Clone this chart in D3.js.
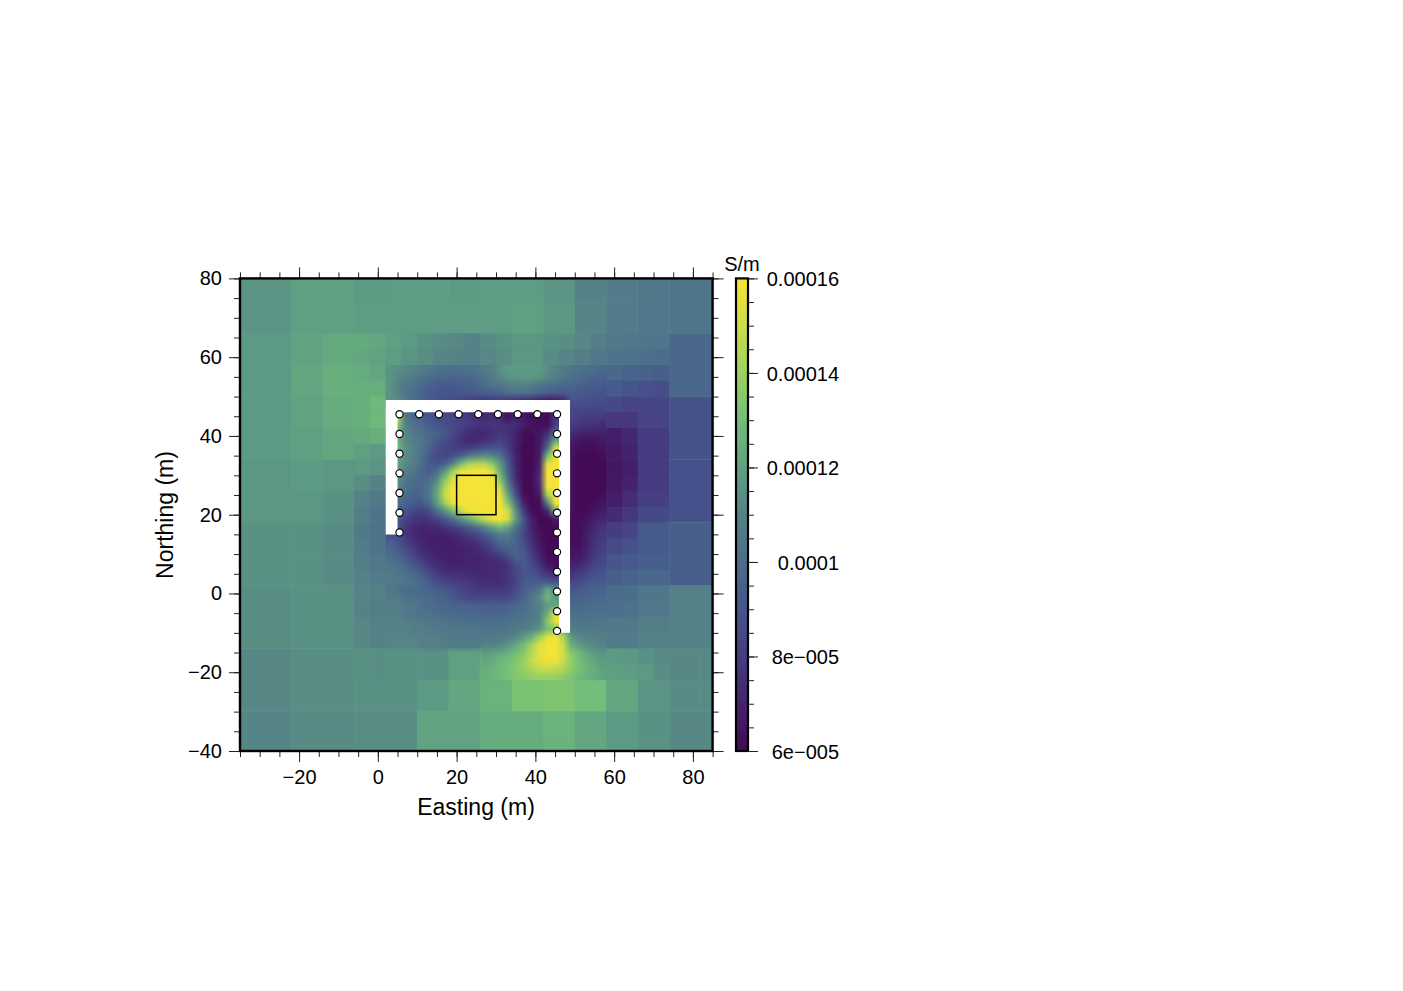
<!DOCTYPE html>
<html><head><meta charset="utf-8">
<script src="https://cdn.jsdelivr.net/npm/d3@7/dist/d3.min.js"></script>
<style>html,body{margin:0;padding:0;background:#fff}svg{display:block}text{font-family:"Liberation Sans",Arial,sans-serif;fill:#000}</style>
</head><body><div id="c"></div>
<script>
// conductivity in 1e-6 S/m
const colorTicks=[60,80,100,120,140,160];
const colorTickLabels=["6e\u2212005","8e\u2212005","0.0001","0.00012","0.00014","0.00016"];
const colorStops=["#440a55","#44236e","#463c82","#46558c","#4b6e8c","#558287","#5fa082","#73be78","#9bd25f","#cddc4b","#f5e437"];
const electrodesTop=[5.5,10.5,15.5,20.5,25.5,30.5,35.5,40.5,45.5];
const electrodesLeft=[40.5,35.5,30.5,25.5,20.5,15.5];
const electrodesRight=[40.5,35.5,30.5,25.5,20.5,15.5,10.5,5.5,0.5,-4.5,-9.5];
// 8 m cells: x edges from -38, y edges from 82
const grid8=[
[116,116,120,120,118,119,119,118,119,119,116,110,107,105,104,104],
[116,116,120,120,119,119,119,119,119,120,117,111,107,105,104,104],
[118,118,121,123,122,115,112,110,113,116,114,108,105,101,97,97],
[118,118,122,125,123,115,106,98,105,118,112,100,96,93,97,97],
[118,118,121,124,124,120,100,90,85,80,75,84,80,84,89,89],
[118,118,120,122,122,115,100,85,110,75,66,66,70,80,89,89],
[117,117,118,117,114,110,100,140,160,75,160,62,66,79,88,88],
[117,117,117,115,110,105,100,140,160,75,160,62,68,80,88,88],
[115,115,115,113,106,90,68,70,100,90,62,64,80,88,94,94],
[115,115,115,113,107,100,70,68,75,90,70,72,90,94,94,94],
[114,114,115,115,110,106,98,90,90,98,110,95,100,103,109,109],
[114,114,115,115,110,109,104,102,102,106,125,104,105,106,109,109],
[112,112,114,114,115,115,115,120,126,134,150,130,120,114,112,112],
[112,112,114,114,115,115,118,122,126,132,133,130,122,116,113,113],
[111,111,113,113,114,114,121,121,124,124,126,122,118,115,112,112],
[111,111,113,113,114,114,121,121,124,124,126,122,118,115,112,112]];
// 4 m cells above the survey: x edges from -6, y edges from 66
const grid4Top=[
[123,122,120,118,115,113,112,110,113,115,117,117,115,114,112,108,106,105,104,104],
[122,121,119,116,114,111,110,109,112,114,117,117,113,111,108,105,103,102,101,100],
[124,122,117,113,109,106,104,104,108,112,120,121,113,105,102,100,97,96,95,94],
[125,125,117,110,103,98,96,97,102,108,118,119,110,100,93,92,92,90,88,87]];
// 4 m cells beside the survey: y edges from 50 down to -22
const grid4Left=[[125,128],[125,128],[123,125],[120,118],[118,116],[114,110],[110,106],[108,103],[106,102],[107,103],[108,105],[109,107],[111,109],[110,108],[112,109],[112,110],[115,114],[115,114]];
const grid4Right=[[85,83,84,84],[78,78,83,83],[68,72,80,80],[66,70,79,79],[65,68,79,79],[66,70,79,79],[68,74,81,81],[73,78,85,85],[80,84,92,92],[86,88,92,92],[90,92,94,94],[94,96,97,97],[99,100,104,104],[101,102,105,105],[105,105,108,108],[107,107,109,109],[118,117,115,113],[120,119,118,114]];
// 2 m cells of the core: x edges from 2, y edges from 58; 0 = none
const core=[
[116,114,112,110,107,105,103,102,101,102,102,103,106,109,114,118,118,118,118,118,114,110,106,104,102,101,100,98],
[116,112,109,106,103,100,98,97,96,97,98,100,103,107,112,116,117,117,117,116,112,108,104,102,100,98,96,95],
[116,110,105,102,98,95,93,92,92,93,94,96,100,104,104,108,110,110,108,104,102,100,98,97,95,94,93,92],
[116,110,104,100,96,93,91,90,90,90,91,92,94,94,96,100,102,102,100,96,94,92,92,93,92,91,90,89],
[115,115,105,100,96,92,90,88,86,84,80,80,78,78,78,76,74,72,70,68,66,66,70,90,90,89,88,87],
[130,130,104,98,92,88,84,82,80,78,76,74,72,74,74,68,66,64,62,62,62,66,66,86,85,84,84,84],
[135,150,105,97,93,90,88,86,84,82,78,74,72,74,72,62,70,64,62,62,60,80,80,84,82,80,80,80],
[135,135,110,103,98,94,90,88,85,83,80,78,76,78,76,74,74,68,64,62,62,80,80,80,78,76,76,74],
[128,128,112,105,102,98,95,92,86,80,74,72,72,74,78,76,70,62,62,66,72,100,100,74,72,70,70,70],
[125,125,112,108,104,98,92,88,82,76,72,72,74,78,82,78,70,62,60,66,85,120,120,68,66,64,64,66],
[128,128,115,110,104,95,88,84,82,80,80,84,88,90,90,80,68,60,60,66,100,150,150,66,62,62,62,64],
[125,125,113,110,102,92,86,85,88,96,106,112,114,112,104,88,70,60,60,68,130,160,160,64,60,60,60,62],
[120,120,112,108,100,92,90,95,110,130,142,145,145,135,118,92,70,60,60,70,155,160,160,64,60,60,60,60],
[118,118,108,104,98,94,100,118,140,158,160,160,160,152,125,95,72,60,60,72,160,160,160,64,60,60,60,60],
[115,115,104,100,98,100,112,135,155,160,160,160,160,160,135,100,74,60,60,75,160,160,160,64,60,60,60,60],
[112,112,102,98,98,104,120,145,160,160,160,160,160,160,148,112,80,60,60,72,158,160,160,64,60,60,60,60],
[106,106,100,96,97,105,122,150,160,160,160,160,160,160,158,122,88,62,60,66,140,160,160,64,60,60,60,62],
[100,100,96,92,92,100,118,140,158,160,160,160,160,160,160,134,100,70,60,62,110,160,160,64,60,60,62,64],
[95,95,90,84,82,88,100,115,130,148,158,160,160,160,160,150,114,78,62,60,72,125,125,64,60,61,64,68],
[92,92,84,78,76,78,84,92,102,114,124,136,148,158,160,150,118,88,70,60,60,68,68,62,61,64,68,72],
[90,90,78,73,71,71,73,77,82,88,94,102,112,122,130,122,104,86,70,62,60,60,60,62,62,66,72,76],
[87,87,78,73,70,69,69,70,72,76,80,85,92,100,108,106,96,84,72,64,60,60,60,62,62,68,74,78],
[95,89,82,76,71,69,68,68,69,71,72,75,82,90,98,100,96,88,76,66,60,60,60,62,62,68,76,80],
[98,93,87,81,74,71,69,68,68,69,70,72,75,82,88,94,96,90,80,68,60,60,60,64,64,70,78,82],
[102,98,92,86,79,74,71,69,68,69,70,70,71,74,76,84,94,92,84,72,62,60,60,66,66,72,80,84],
[104,102,98,92,86,79,74,71,70,70,70,71,72,72,72,76,86,92,86,78,66,62,62,70,72,78,84,86],
[106,104,102,98,94,86,80,76,75,75,73,72,72,72,74,78,84,90,90,84,78,74,74,76,80,84,88,90],
[106,105,104,102,98,92,88,84,82,80,78,76,74,74,74,76,84,92,94,94,92,90,90,84,86,90,92,92],
[104,102,100,99,98,96,94,92,88,84,82,80,78,78,78,80,86,94,98,104,122,115,115,90,92,94,95,96],
[106,106,102,102,100,100,96,96,90,88,84,84,84,84,84,84,90,96,104,112,128,118,118,94,95,96,97,98],
[108,108,106,104,102,100,98,97,96,96,95,95,94,94,94,96,98,100,104,110,118,122,122,97,98,99,100,100],
[108,108,106,104,103,102,100,99,98,98,97,97,96,96,96,98,100,102,104,110,125,155,155,100,100,101,102,102],
[110,110,108,108,106,104,104,103,102,102,101,101,100,100,101,102,103,104,106,110,135,158,158,104,103,103,104,104],
[110,110,110,108,108,106,106,105,105,104,104,104,103,103,103,104,106,108,110,115,130,135,125,108,106,106,106,106],
[110,110,110,110,109,108,108,106,106,105,105,105,105,105,106,108,112,118,125,140,155,160,145,118,112,110,109,108],
[112,112,112,112,110,110,110,108,108,108,108,108,110,110,112,116,122,130,142,155,160,160,150,125,118,114,112,110],
[0,0,0,0,0,0,0,0,0,0,0,0,118,120,122,126,130,136,145,155,160,160,152,135,128,122,118,116],
[0,0,0,0,0,0,0,0,0,0,0,0,122,124,128,130,134,140,148,155,158,158,150,138,130,125,122,118],
[0,0,0,0,0,0,0,0,0,0,0,0,124,126,128,131,135,139,144,148,150,148,145,137,131,127,124,120],
[0,0,0,0,0,0,0,0,0,0,0,0,125,127,129,131,134,136,138,140,140,139,137,133,129,126,124,121]];
const xTicks=d3.range(-20,81,20), yTicks=d3.range(-40,81,20);
const xMinor=d3.range(-35,86,5), yMinor=d3.range(-40,81,5);

const W=1403,H=991;
const x=d3.scaleLinear().domain([-35,85]).range([240,712.6]);
const y=d3.scaleLinear().domain([-40,80]).range([751,278.4]);
const color=d3.scaleSequential(d3.piecewise(d3.interpolateRgb,colorStops)).domain([60,160]).clamp(true);
const svg=d3.select("#c").append("svg").attr("width",W).attr("height",H);
const defs=svg.append("defs");
defs.append("clipPath").attr("id","frame").append("rect").attr("x",x(-35)).attr("y",y(80)).attr("width",x(85)-x(-35)).attr("height",y(-40)-y(80));
const field=svg.append("g").attr("clip-path","url(#frame)");
field.append("rect").attr("x",x(-35)).attr("y",y(80)).attr("width",x(85)-x(-35)).attr("height",y(-40)-y(80)).attr("fill","#6fa894");
function cell(x0,y0,size,v){
  field.append("rect").attr("x",x(x0)).attr("y",y(y0)).attr("width",x(x0+size)-x(x0)).attr("height",y(y0-size)-y(y0)).attr("fill",color(v));
}
// coarse layer: merges 2x2 blocks of equal value into a 16 m cell
grid8.forEach((row,j)=>row.forEach((v,i)=>{
  const bi=i-(i%2), bj=j-(j%2);
  const same=grid8[bj][bi]===grid8[bj][bi+1]&&grid8[bj][bi]===grid8[bj+1][bi]&&grid8[bj][bi]===grid8[bj+1][bi+1];
  if(same){ if(i%2===0&&j%2===0) cell(-38+8*i,82-8*j,16,v); }
  else cell(-38+8*i,82-8*j,8,v);
}));
grid4Top.forEach((row,j)=>row.forEach((v,i)=>cell(-6+4*i,66-4*j,4,v)));
grid4Left.forEach((row,j)=>row.forEach((v,i)=>cell(-6+4*i,50-4*j,4,v)));
grid4Right.forEach((row,j)=>row.forEach((v,i)=>cell(58+4*i,50-4*j,4,v)));
// core layer: one raster cell per value, drawn smoothed
const cv=document.createElement("canvas");
cv.width=core[0].length; cv.height=core.length;
const ctx=cv.getContext("2d");
core.forEach((row,j)=>row.forEach((v,i)=>{ if(v){ctx.fillStyle=color(v);ctx.fillRect(i,j,1,1);} }));
field.append("image").attr("href",cv.toDataURL()).attr("preserveAspectRatio","none")
  .attr("x",x(2)).attr("y",y(58)).attr("width",x(58)-x(2)).attr("height",y(-22)-y(58));
// white profile band
const band=[[2,49.1],[48.8,49.1],[48.8,-10],[46,-10],[46,46],[5,46],[5,15],[2,15]];
svg.append("path").attr("d",d3.line().x(d=>x(d[0])).y(d=>y(d[1])).curve(d3.curveLinearClosed)(band)).attr("fill","#fff");
// axes
function ticks(axis,vals,size,labels){
  const a=axis.tickValues(vals).tickSizeOuter(0).tickSize(size).tickPadding(labels?5:0);
  if(!labels) a.tickFormat("");
  return a;
}
function drawAxis(axis,tr,labelled){
  const g=svg.append("g").attr("transform",tr).call(axis);
  g.select(".domain").remove();
  g.selectAll("line").attr("stroke","#222").attr("stroke-width",1);
  g.selectAll("text").attr("font-size",20).attr("font-family","Liberation Sans").attr("fill","#000");
  return g;
}
const fmt=d=>d3.format("d")(d);
drawAxis(ticks(d3.axisBottom(x),xMinor,6,false),`translate(0,${y(-40)})`);
drawAxis(ticks(d3.axisTop(x),xMinor,6,false),`translate(0,${y(80)})`);
drawAxis(ticks(d3.axisLeft(y),yMinor,6,false),`translate(${x(-35)},0)`);
drawAxis(ticks(d3.axisRight(y),yMinor,6,false),`translate(${x(85)},0)`);
drawAxis(ticks(d3.axisBottom(x),xTicks,11,true).tickFormat(fmt).tickPadding(8),`translate(0,${y(-40)})`);
drawAxis(ticks(d3.axisTop(x),xTicks,11,false),`translate(0,${y(80)})`);
drawAxis(ticks(d3.axisLeft(y),yTicks,11,true).tickFormat(fmt).tickPadding(7),`translate(${x(-35)},0)`);
drawAxis(ticks(d3.axisRight(y),yTicks,11,false),`translate(${x(85)},0)`);
svg.append("rect").attr("x",x(-35)).attr("y",y(80)).attr("width",x(85)-x(-35)).attr("height",y(-40)-y(80)).attr("fill","none").attr("stroke","#000").attr("stroke-width",2.4);
// target square
svg.append("rect").attr("x",x(20)).attr("y",y(30)).attr("width",x(30)-x(20)).attr("height",y(20)-y(30)).attr("fill","none").attr("stroke","#000").attr("stroke-width",1.5);
// electrodes
const pts=[...electrodesTop.map(v=>[v,45.5]),...electrodesLeft.map(v=>[5.5,v]),...electrodesRight.map(v=>[45.5,v])];
svg.append("g").selectAll("circle").data(pts).join("circle").attr("cx",d=>x(d[0])).attr("cy",d=>y(d[1])).attr("r",3.6).attr("fill","#fff").attr("stroke","#000").attr("stroke-width",1.2);
// titles
svg.append("text").attr("x",476).attr("y",815).attr("text-anchor","middle").attr("font-size",23).text("Easting (m)");
svg.append("text").attr("transform","translate(173,515) rotate(-90)").attr("text-anchor","middle").attr("font-size",23).text("Northing (m)");
// colour bar
const cb=d3.scaleLinear().domain([60,160]).range([751,278.4]);
const grad=defs.append("linearGradient").attr("id","cbg").attr("x1",0).attr("x2",0).attr("y1",1).attr("y2",0);
colorStops.forEach((c,i)=>grad.append("stop").attr("offset",i/(colorStops.length-1)).attr("stop-color",c));
svg.append("rect").attr("x",736).attr("y",cb(160)).attr("width",12).attr("height",cb(60)-cb(160)).attr("fill","url(#cbg)").attr("stroke","#000").attr("stroke-width",2.2);
drawAxis(d3.axisRight(cb).tickValues(d3.range(60,161,5)).tickSize(6).tickSizeOuter(0).tickFormat(""),"translate(748,0)");
const cbLab=drawAxis(d3.axisRight(cb).tickValues(colorTicks).tickSize(10).tickSizeOuter(0).tickFormat((d,i)=>colorTickLabels[i]),"translate(748,0)");
cbLab.selectAll("text").attr("text-anchor","end").attr("x",91).attr("dy","0.36em");
svg.append("text").attr("x",742).attr("y",271).attr("text-anchor","middle").attr("font-size",20).text("S/m");
</script></body></html>
